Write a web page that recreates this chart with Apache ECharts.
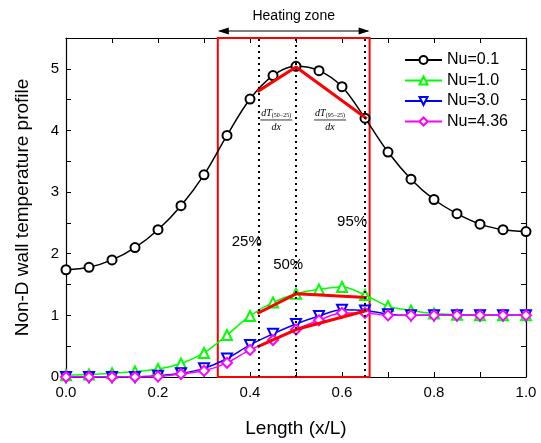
<!DOCTYPE html>
<html><head><meta charset="utf-8">
<script src="https://cdn.jsdelivr.net/npm/echarts@6/dist/echarts.min.js"></script>
<style>html,body{margin:0;padding:0;background:#fff}#c{width:541px;height:443px}</style>
</head><body><div id="c"></div>
<script>
const xPos = [0,0.05,0.1,0.15,0.2,0.25,0.3,0.35,0.4,0.45,0.5,0.55,0.6,0.65,0.7,0.75,0.8,0.85,0.9,0.95,1.0];
const nu01 = [1.74,1.78,1.90,2.10,2.39,2.78,3.28,3.92,4.51,4.89,5.04,4.97,4.71,4.20,3.65,3.21,2.88,2.65,2.48,2.39,2.36];
const nu10 = [0.03,0.04,0.06,0.09,0.13,0.22,0.39,0.68,0.99,1.21,1.35,1.42,1.46,1.33,1.15,1.08,1.03,1.01,1.00,1.00,1.00];
const nu30 = [0.00,0.00,0.00,0.00,0.02,0.06,0.14,0.30,0.52,0.70,0.86,0.99,1.09,1.08,1.02,1.00,1.00,1.00,1.00,1.00,1.00];
const nu436 = [0.00,0.00,0.00,0.00,0.01,0.05,0.10,0.23,0.44,0.60,0.77,0.92,1.04,1.04,1.00,1.00,1.00,1.00,1.00,1.00,1.00];
const seriesNames = ['Nu=0.1','Nu=1.0','Nu=3.0','Nu=4.36'];
const slopeX = [0.416,0.5,0.654];
const slopeY01 = [4.63,5.03,4.19];
const slopeY10 = [1.03,1.35,1.29];
const slopeY436 = [0.49,0.77,1.08];
const percentLines = [0.416,0.5,0.654];
const percentLabels = ['25%','50%','95%'];
const percentLabelPos = [[0.393,2.19],[0.483,1.82],[0.622,2.52]];
const heatZone = [0.33,0.66];
const fracLabels = ['(50\u221225)','(95\u221225)'];
const fracPos = [[0.457,4.17],[0.574,4.17]];
const xTicks = ['0.0','0.2','0.4','0.6','0.8','1.0'];

const zip = (xs, ys) => xs.map((x,i)=>[x, ys[i]]);
const FONT = 'Liberation Sans, Arial, sans-serif';
const chart = echarts.init(document.getElementById('c'), null, {renderer:'canvas'});

function mkSeries(name, ys, color, symbol, rot){
  return {name, type:'line', data:zip(xPos, ys), smooth:0.35, symbol, symbolSize: symbol==='emptyCircle'?9:10,
    symbolRotate: rot||0, showAllSymbol:true,
    lineStyle:{color, width:1.5}, itemStyle:{color, borderColor:color, borderWidth:1.4}, z:3};
}
function redLine(ys){
  return {type:'line', data:zip(slopeX, ys), symbol:'none', lineStyle:{color:'#ff0000', width:3}, z:4, silent:true};
}
const axisCommon = {
  axisLine:{show:true, onZero:false, lineStyle:{color:'#000', width:1.2}},
  axisTick:{show:true, inside:true, length:5, lineStyle:{color:'#000'}},
  minorTick:{show:true, splitNumber:2, length:5, lineStyle:{color:'#000'}},
  splitLine:{show:false}
};
const option = {
  animation:false,
  backgroundColor:'#fff',
  grid:{left:66, right:15, top:38, bottom:66},
  legend:{data:seriesNames, orient:'vertical', left:399, top:47, itemWidth:37, itemHeight:10, itemGap:4.5,
    textStyle:{fontFamily:FONT, fontSize:16, color:'#000'}},
  xAxis:[
    Object.assign({type:'value', min:0, max:1, interval:0.2, position:'bottom',
      name:'Length (x/L)', nameLocation:'middle', nameGap:42,
      nameTextStyle:{fontFamily:FONT, fontSize:19, color:'#000'},
      axisLabel:{fontFamily:FONT, fontSize:15, color:'#000', margin:8, formatter:(v)=>xTicks[Math.round(v/0.2)] }}, axisCommon),
    Object.assign({type:'value', min:0, max:1, interval:0.2, position:'top', axisLabel:{show:false}}, axisCommon)
  ],
  yAxis:[
    Object.assign({type:'value', min:0, max:5.5, interval:1, position:'left',
      name:'Non-D wall temperature profile', nameLocation:'middle', nameGap:34,
      nameTextStyle:{fontFamily:FONT, fontSize:19, color:'#000'},
      axisLabel:{fontFamily:FONT, fontSize:15, color:'#000', margin:7, showMaxLabel:false}}, axisCommon),
    Object.assign({type:'value', min:0, max:5.5, interval:1, position:'right', axisLabel:{show:false}}, axisCommon)
  ],
  series:[
    mkSeries(seriesNames[0], nu01, '#000000', 'emptyCircle'),
    mkSeries(seriesNames[1], nu10, '#00ff00', 'emptyTriangle'),
    mkSeries(seriesNames[2], nu30, '#0000ff', 'emptyTriangle', 180),
    mkSeries(seriesNames[3], nu436, '#ff00ff', 'emptyDiamond'),
    redLine(slopeY01), redLine(slopeY10), redLine(slopeY436),
    {type:'line', data:[], silent:true,
      markLine:{symbol:'none', silent:true, label:{show:false},
        lineStyle:{color:'#000', type:[2,4], width:2},
        data: percentLines.map(v=>({xAxis:v}))},
      markArea:{silent:true, itemStyle:{color:'rgba(0,0,0,0)', borderColor:'#ff0000', borderWidth:2},
        data:[[{xAxis:heatZone[0], yAxis:0},{xAxis:heatZone[1], yAxis:5.5}]]}
    }
  ]
};
chart.setOption(option);

// annotations positioned through the axes
const g = [];
const p = (x,y)=>chart.convertToPixel({gridIndex:0}, [x,y]);
percentLabels.forEach((t,i)=>{
  const q = p(percentLabelPos[i][0], percentLabelPos[i][1]);
  g.push({type:'text', x:q[0], y:q[1], style:{text:t, fontFamily:FONT, fontSize:15, fill:'#000', align:'center', verticalAlign:'middle'}, z:10});
});
fracLabels.forEach((t,i)=>{
  const q = p(fracPos[i][0], fracPos[i][1]);
  g.push({type:'text', x:q[0], y:q[1]-2, style:{
    text:'{a|dT}{b|'+t+'}', align:'center', verticalAlign:'bottom',
    rich:{a:{fontFamily:'Liberation Serif, serif', fontStyle:'italic', fontSize:10, fill:'#000'},
          b:{fontFamily:'Liberation Serif, serif', fontSize:6, fill:'#000', verticalAlign:'bottom', padding:[3,0,0,0]}}}, z:10});
  g.push({type:'line', shape:{x1:q[0]-16, y1:q[1], x2:q[0]+16, y2:q[1]}, style:{stroke:'#000', lineWidth:0.8}, z:10});
  g.push({type:'text', x:q[0], y:q[1]+2, style:{text:'dx', fontFamily:'Liberation Serif, serif', fontStyle:'italic', fontSize:10, fill:'#000', align:'center', verticalAlign:'top'}, z:10});
});
const a0 = p(heatZone[0], 5.5), a1 = p(heatZone[1], 5.5);
const ay = a0[1]-7;
g.push({type:'line', shape:{x1:a0[0]+2, y1:ay, x2:a1[0]-2, y2:ay}, style:{stroke:'#000', lineWidth:1.2}, z:10});
g.push({type:'polygon', shape:{points:[[a0[0],ay],[a0[0]+11,ay-3.5],[a0[0]+11,ay+3.5]]}, style:{fill:'#000'}, z:10});
g.push({type:'polygon', shape:{points:[[a1[0],ay],[a1[0]-11,ay-3.5],[a1[0]-11,ay+3.5]]}, style:{fill:'#000'}, z:10});
g.push({type:'text', x:(a0[0]+a1[0])/2, y:ay-8, style:{text:'Heating zone', fontFamily:FONT, fontSize:14, fill:'#000', align:'center', verticalAlign:'bottom'}, z:10});
chart.setOption({graphic:g});
</script></body></html>
